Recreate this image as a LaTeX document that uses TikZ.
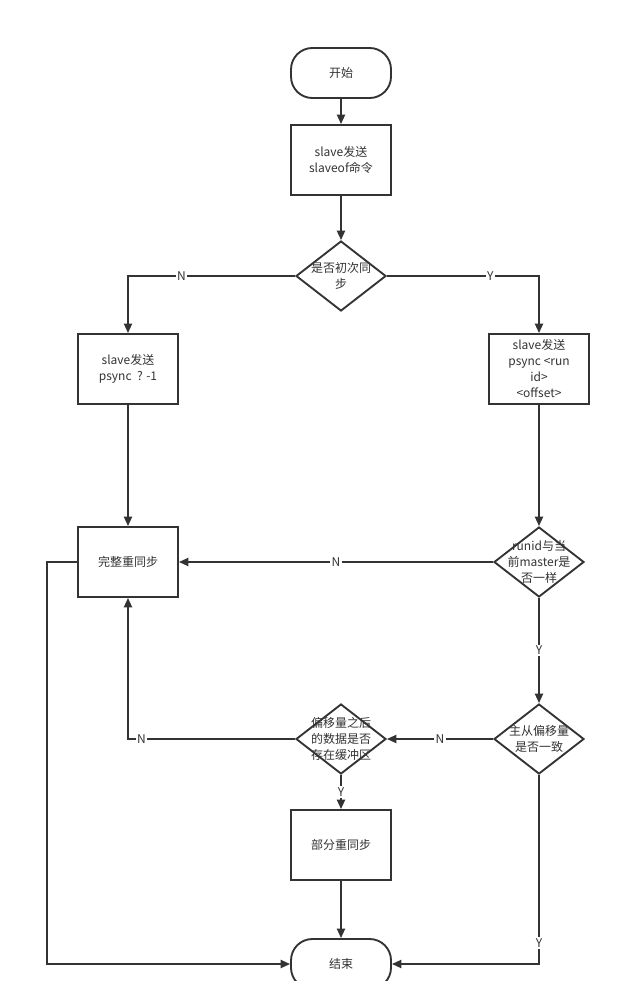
\documentclass[tikz,border=0pt]{standalone}
\usepackage{fontspec}
\setmainfont{Noto Sans CJK SC}
\usetikzlibrary{shapes.geometric,arrows.meta}
\definecolor{fcline}{RGB}{51,51,51}

\begin{document}
\begin{tikzpicture}[x=0.75pt,y=-0.75pt]
	\tikzset{fcbox/.style={rectangle, draw=fcline, line width=1.4pt, fill=white,
				minimum width=75pt, minimum height=52.5pt, inner sep=0pt,
				align=center, text=fcline, font=\fontsize{9}{12}\selectfont}}
	\tikzset{fcterm/.style={fcbox, rounded corners=16pt, minimum height=37.5pt}}
	\tikzset{fcdia/.style={diamond, draw=fcline, line width=1.4pt, fill=white,
				minimum width=67.5pt, minimum height=52.5pt, inner sep=0pt}}
	\tikzset{fctxt/.style={align=center, text=fcline, inner sep=0pt,
				font=\fontsize{9}{12}\selectfont}}
	\tikzset{fcline/.style={draw=fcline, line width=1.4pt,
				-{Triangle[length=7pt, width=6pt]}}}
	\tikzset{fclbl/.style={fill=white, text=fcline, inner sep=1pt,
				font=\fontsize{9}{10}\selectfont}}

	\useasboundingbox (0,0) rectangle (621,981);
	\clip (0,0) rectangle (621,981);

	\node[fcterm] (start) at (341,73) {开始};
	\node[fcbox] (sendof) at (341,160) {slave发送\\slaveof命令};
	\node[fcdia] (first) at (341,276) {};
	\node[fctxt] (firstt) at (first) {是否初次同\\步};

	\node[fcbox] (psyncm) at (128,369) {slave发送\\psync\ \ ? -1};
	\node[fcbox] (psyncr) at (539,369) {slave发送\\psync <run\\id>\\<offset>};

	\node[fcbox] (full) at (128,562) {完整重同步};
	\node[fcdia] (runid) at (539,562) {};
	\node[fctxt] (runidt) at (runid) {runid与当\\前master是\\否一样};

	\node[fcdia] (offs) at (539,739) {};
	\node[fctxt] (offst) at (offs) {主从偏移量\\是否一致};
	\node[fcdia] (buf) at (341,739) {};
	\node[fctxt] (buft) at (buf) {偏移量之后\\的数据是否\\存在缓冲区};

	\node[fcbox] (part) at (341,845) {部分重同步};
	\node[fcterm] (done) at (341,964) {结束};

	\draw[fcline] (start) -- (sendof);
	\draw[fcline] (sendof) -- (first);
	\draw[fcline] (first.west) -| node[fclbl, pos=0.34] {N} (psyncm);
	\draw[fcline] (first.east) -| node[fclbl, pos=0.34] {Y} (psyncr);
	\draw[fcline] (psyncm) -- (full);
	\draw[fcline] (psyncr) -- (runid);
	\draw[fcline] (runid.west) -- node[fclbl] {N} (full.east);
	\draw[fcline] (runid.south) -- node[fclbl] {Y} (offs.north);
	\draw[fcline] (offs.west) -- node[fclbl] {N} (buf.east);
	\draw[fcline] (buf.west) -| node[fclbl, pos=0.46] {N} (full.south);
	\draw[fcline] (buf.south) -- node[fclbl] {Y} (part.north);
	\draw[fcline] (part) -- (done);
	\draw[fcline] (full.west) -- ++(-30,0) |- (done.west);
	\draw[fcline] (offs.south) |- node[fclbl, pos=0.445] {Y} (done.east);
\end{tikzpicture}
\end{document}
